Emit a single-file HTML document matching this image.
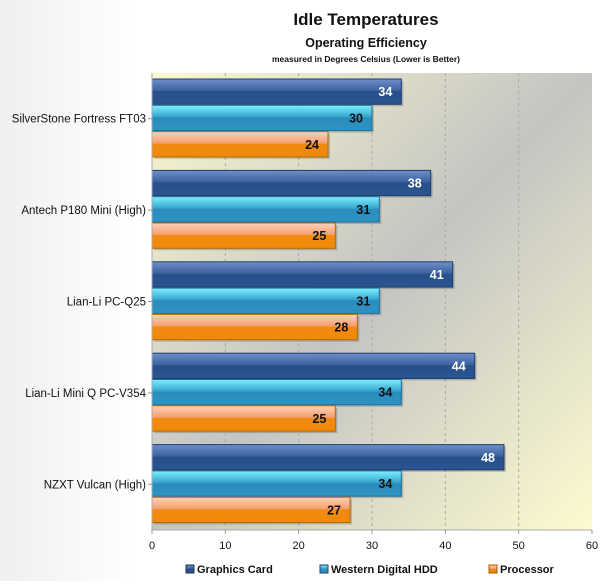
<!DOCTYPE html>
<html><head><meta charset="utf-8"><style>
html,body{margin:0;padding:0;background:#fff;}
body{width:609px;height:581px;overflow:hidden;font-family:"Liberation Sans",sans-serif;}
</style></head><body>
<svg id="chart" width="609" height="581" xmlns="http://www.w3.org/2000/svg">
<defs>
<linearGradient id="pageBg" x1="0" y1="0" x2="1" y2="0"><stop offset="0" stop-color="#efefef"/><stop offset="0.22" stop-color="#ffffff"/><stop offset="1" stop-color="#ffffff"/></linearGradient>
<linearGradient id="plotBg" x1="0" y1="0" x2="1" y2="1"><stop offset="0" stop-color="#fbf9d0"/><stop offset="0.5" stop-color="#c4c4c2"/><stop offset="1" stop-color="#fefbd0"/></linearGradient>
<linearGradient id="g0" x1="0" y1="0" x2="0" y2="1"><stop offset="0" stop-color="#6f8fc8"/><stop offset="0.45" stop-color="#3d62a0"/><stop offset="0.5" stop-color="#27508a"/><stop offset="1" stop-color="#2a5590"/></linearGradient>
<linearGradient id="g1" x1="0" y1="0" x2="0" y2="1"><stop offset="0" stop-color="#7ff0ff"/><stop offset="0.45" stop-color="#36a6d0"/><stop offset="0.5" stop-color="#2a8cbd"/><stop offset="1" stop-color="#2d93c4"/></linearGradient>
<linearGradient id="g2" x1="0" y1="0" x2="0" y2="1"><stop offset="0" stop-color="#ffd2bc"/><stop offset="0.45" stop-color="#f4a070"/><stop offset="0.5" stop-color="#f28a10"/><stop offset="1" stop-color="#f08a0a"/></linearGradient>
</defs>
<rect x="0" y="0" width="609" height="581" fill="url(#pageBg)"/>
<text x="366" y="25" text-anchor="middle" font-size="17" font-weight="bold" fill="#111">Idle Temperatures</text>
<text x="366" y="47" text-anchor="middle" font-size="12.5" font-weight="bold" fill="#111">Operating Efficiency</text>
<text x="366" y="62" text-anchor="middle" font-size="8.5" font-weight="bold" fill="#111">measured in Degrees Celsius (Lower is Better)</text>
<rect x="152" y="73" width="440" height="457" fill="url(#plotBg)"/>
<g id="grid"></g><g id="bars"></g><g id="axes"></g>
<g font-size="11" font-weight="bold" fill="#111">
<rect x="186" y="565" width="8" height="8" fill="url(#g0)" stroke="#234"/>
<text x="197" y="573">Graphics Card</text>
<rect x="320" y="565" width="8" height="8" fill="url(#g1)" stroke="#246"/>
<text x="331" y="573">Western Digital HDD</text>
<rect x="489" y="565" width="8" height="8" fill="url(#g2)" stroke="#a50"/>
<text x="500" y="573">Processor</text>
</g>
</svg>
<script>
const categories = ["SilverStone Fortress FT03","Antech P180 Mini (High)","Lian-Li PC-Q25","Lian-Li Mini Q PC-V354","NZXT Vulcan (High)"];
const graphicsCard = [34,38,41,44,48];
const westernDigitalHDD = [30,31,31,34,34];
const processor = [24,25,28,25,27];
const xTicks = [0,10,20,30,40,50,60];
const seriesNames = ["graphics-card","hdd","processor"];

const NS="http://www.w3.org/2000/svg";
const L=152,R=592,T=73,B=530,xMax=60;
const x=v=>L+v/xMax*(R-L);
const gH=(B-T)/categories.length;
function mk(tag,attrs,parent){const e=document.createElementNS(NS,tag);for(const k in attrs)e.setAttribute(k,attrs[k]);parent.appendChild(e);return e;}
const grid=document.getElementById('grid'),bars=document.getElementById('bars'),axes=document.getElementById('axes');
xTicks.forEach(t=>{
  if(t>0&&t<xMax){const g=mk('line',{x1:x(t),x2:x(t),y1:T,y2:B,stroke:'#aaa','stroke-dasharray':'3,3'},grid);
  
  }
  const tk=mk('line',{x1:x(t),x2:x(t),y1:B,y2:B+4,stroke:'#999'},axes);
  
  
  const tl=mk('text',{x:x(t),y:B+19,'text-anchor':'middle','font-size':'11',fill:'#111'},axes);
  tl.textContent=t;
  
  
});
const xa=mk('line',{x1:L,x2:R,y1:B,y2:B,stroke:'#aaa'},axes);


const ya=mk('line',{x1:L,x2:L,y1:T,y2:B,stroke:'#aaa'},axes);


const series=[graphicsCard,westernDigitalHDD,processor];
const fills=['url(#g0)','url(#g1)','url(#g2)'],strokes=['#1e3d6e','#1f6f99','#b86a00'],tcol=['#fff','#111','#111'];
categories.forEach((c,i)=>{
  const g0=T+i*gH,cy=g0+gH/2;
  const lab=mk('text',{x:L-6,y:cy+4,'text-anchor':'end','font-size':'11.5',fill:'#111'},axes);
  lab.textContent=c;
  
  
  const yt=mk('line',{x1:L-4,x2:L,y1:cy,y2:cy,stroke:'#999'},axes);
  
  
  const bh=26.3,top=g0+6;
  series.forEach((s,k)=>{
    const v=s[i],y=top+k*bh;
    const sh=mk('rect',{x:L+2,y:y+2,width:x(v)-L,height:bh-1,fill:'#000',opacity:'0.18'},bars);
    
    
    const r=mk('rect',{x:L,y:y,width:x(v)-L,height:bh-1,fill:fills[k],stroke:strokes[k],'stroke-width':'1'},bars);
    
    
    const t=mk('text',{x:x(v)-9,y:y+bh/2+4,'text-anchor':'end','font-size':'12.5','font-weight':'bold',fill:tcol[k]},bars);
    t.textContent=v;
    
    
  });
});
</script>
</body></html>
